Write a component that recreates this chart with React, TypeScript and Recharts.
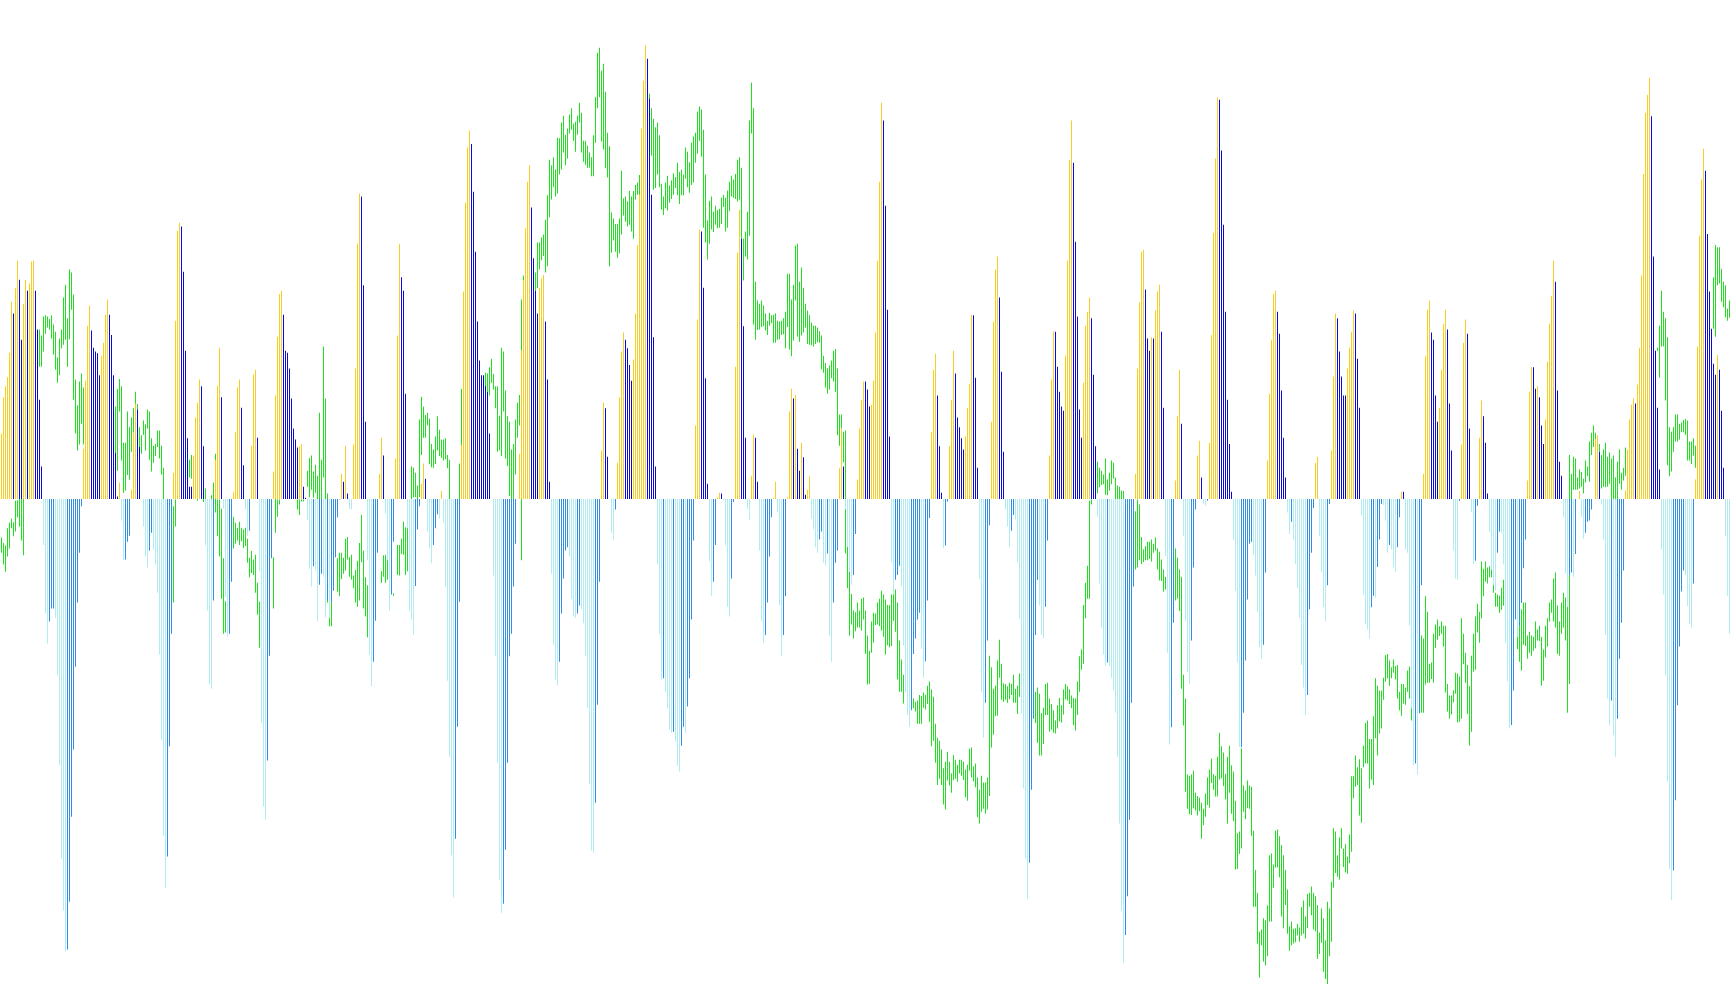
import React from "react";
import { ComposedChart, Bar, XAxis, YAxis, Cell } from "recharts";

const COLS = 108;
const ZERO = 765; // the gauge reading at which the oscillator is zero

const hist1 = [107,166,184,199,239,322,303,344,389,358,260,319,358,340,352,388,389,340,277,162,53,-75,-187,-236,-200,-179,-179,-194,-287,-434,-587,-672,-739,-736,-658,-519,-409,-274,-169,-88,-12,82,193,283,316,275,247,241,238,202,234,255,301,326,301,268,202,76,4,27,-35,-100,-99,-70,-60,15,108,156,146,85,0,-45,-94,-112,-84,-55,-83,-107,-153,-254,-393,-550,-636,-584,-404,-220,43,291,438,451,445,371,242,99,20,20,71,133,157,195,184,86,-76,-182,-303,-310,-166,64];
const hist2 = [185,247,166,-15,-160,-225,-220,-135,11,110,182,195,149,55,-17,-60,-52,87,203,211,100,-118,-365,-502,-524,-427,-256,-97,45,169,265,335,340,301,242,239,213,164,115,97,84,86,90,20,2,-34,-114,-143,-110,-116,-200,-140,-122,-127,-193,-165,-195,-168,-150,-95,-30,-1,41,28,87,9,-16,-17,89,213,417,499,494,349,126,-100,-254,-306,-266,-199,-88,41,100,71,-24,-100,-182,-156,-70,66,267,417,362,340,172,-48,-182,-197,-221,-142,-50,-12,25,58,33,-53,-81,-105];
const hist3 = [-75,-48,-25,-32,13,-38,-143,-297,-421,-582,-651,-555,-372,-168,88,339,484,574,602,580,502,404,290,226,202,202,185,175,107,0,-125,-257,-431,-622,-676,-661,-573,-431,-257,-220,-143,-73,0,74,243,357,442,518,545,476,393,340,303,345,360,366,290,195,28,-122,-238,-295,-305,-266,-187,-130,-84,-79,-94,-163,-192,-194,-187,-174,-180,-203,-256,-341,-465,-574,-578,-496,-336,-135,79,157,148,69,0,-55,-66,-17,59,166,241,272,260,246,219,193,228,303,415,497,605,683,741,719];
const hist4 = [654,497,264,53,-106,-220,-295,-293,-315,-342,-377,-382,-380,-396,-436,-445,-403,-372,-382,-339,-293,-197,-68,120,293,440,437,345,197,25,-102,-158,-135,-75,3,10,9,-2,-76,-176,-192,-130,-5,216,402,473,425,282,100,-16,-34,38,105,100,28,-84,-200,-235,-222,-169,-94,-30,2,28,-22,-173,-257,-222,-159,3,143,180,164,170,82,46,92,68,7,15,37,-32,-50,-79,-88,-66,-53,-104,-109,-89,-223,-266,-169,-104,-84,50,115,53,-17,-78,-119,-140,-124,-57,32,115,162,192];
const hist5 = [192,179,151,154,193,272,389,518,647,618,479,309,102,-103,-155,-132,-124,-109,-142,-239,-316,-353,-372,-345,-253,-228,-197,-186,-245,-292,-265,-166,-31,110,211,237,169,86,10,-80,-76,-4,86,162,242,205,133,117,99,81,102,149,188,301,300,198,51,-130,-315,-390,-333,-231,-43,126,290,375,396,329,208,77,-17,-45,-79,-52,-26,-34,-103,-195,-350,-473,-587,-653,-594,-475,-359,-222,-132,-174,-222,-228,-176,-68,71,195,274,273,216,175,151,144,234,389,554,618,549,420,298,146];
const hist6 = [100,190,283,306,329,295,203,86,-29,-138,-210,-254,-272,-267,-273,-292,-312,-349,-421,-530,-672,-757,-712,-649,-524,-333,-143,41,213,321,404,407,342,262,242,264,262,308,339,350,273,149,-93,-251,-401,-373,-202,30,136,211,123,-60,-200,-282,-302,-231,-112,-17,71,95,35,-8,-11,-3,92,268,435,556,656,652,569,448,306,162,90,12,-67,-150,-267,-405,-405,-349,-264,-164,-73,-70,-92,-125,-184,-243,-261,-238,-120,63,172,260,335,340,306,270,177,100,35,-22,-57,-37,-66,-106];
const hist7 = [-145,-194,-271,-308,-353,-320,-180,-88,-15,59,69,-61,-119,-176,-200,-141,-8,79,200,303,295,241,200,169,169,213,247,273,308,303,229,149,-26,-156,-204,-213,-228,-177,-158,-161,-111,-66,-8,-10,-35,-88,-75,-83,-112,-119,-79,-30,12,12,-83,-88,-207,-342,-435,-432,-450,-350,-141,41,233,309,324,272,260,169,126,149,211,286,309,277,156,79,-84,-130,-132,-3,89,255,293,270,115,-21,-106,-101,-11,100,161,135,92,9,-53,-115,-140,-150,-88,-53,-56,-107,-235,-298,-375,-369];
const hist8 = [-313,-197,-225,-208,-170,-113,-66,30,175,216,215,180,184,166,120,90,130,224,286,332,389,355,177,61,38,-30,-122,-176,-125,-120,-127,-90,0,13,-29,-65,-55,-37,-35,-17,0,98,104,77,-9,-66,-222,-326,-370,-329,-386,-421,-359,-261,-202,-117,14,81,130,154,164,156,187,247,365,531,631,660,688,625,396,242,149,48,-83,-156,-287,-462,-604,-655,-607,-492,-337,-241,-151,-117,-124,-175,-204,-210,-138,32,249,430,522,572,536,433,339,278,221,203,235,211,144,51,-61,-158,-220];

// green ranges as gauge readings: top, bottom per column; 0,0 where it is hidden behind a bar
const green1 = [828,853,837,872,841,884,813,859,804,846,797,813,803,826,768,818,767,795,765,810,765,833,765,857,0,0,0,0,0,0,0,0,0,0,0,0,0,0,488,549,498,549,467,524,465,495,467,485,471,488,465,503,480,529,492,554,534,575,503,563,488,519,436,513,415,505,470,549,390,504,395,456,431,603,570,658,612,686,573,676,560,642,583,676,0,0,0,0,0,0,0,0,0,0,0,0,0,0,0,0,0,0,0,0,0,0,0,0,0,0,0,0,0,0,614,689,585,719,569,622,581,702,673,755,673,751,622,726,648,733,632,688,617,657,590,610,610,619,648,680,661,691,637,660,643,686,619,650,622,701,666,720,678,706,675,695,653,680,653,699,678,725,714,765,0,0,0,0,0,0,0,0,777,934,766,810,0,0,0,0,0,0,0,0,0,0,0,0,701,730,693,732,0,0,0,0,765,768,0,0,0,0,765,770,748,765,0,0,0,0,759,765,738,765,691,787];
const green2 = [766,826,766,859,781,928,862,985,932,983,0,0,0,0,0,0,794,846,804,838,812,833,802,840,812,834,815,845,812,842,830,869,861,893,850,886,864,889,856,918,902,954,933,1008,0,0,0,0,0,0,0,0,0,0,0,0,860,944,717,820,766,794,766,774,0,0,0,0,0,0,0,0,0,0,0,0,0,0,0,0,766,782,766,791,766,769,766,769,0,0,719,745,698,762,694,750,720,763,709,755,727,765,624,765,701,765,516,730,601,765,756,934,958,973,928,973,0,0,0,0,862,916,853,924,853,896,861,887,830,882,827,864,860,892,856,897,890,911,881,934,866,941,837,931,791,868,849,944,893,957,906,991,825,946,867,957,0,0,0,0,0,0,0,0,883,902,857,892,857,902,862,897,867,897,867,884,919,923,0,0,840,889,840,890,830,855,802,856,811,889,767,883,792,911,712,825,714,762,722,762,743,765,635,762,598,693,614,665,628,665,624,645,634,708,675,713,661,694,648,691];
const green3 = [684,714,663,708,630,686,652,695,668,698,668,702,666,700,693,715,701,765,0,0,0,0,0,0,0,0,707,765,585,677,0,0,0,0,0,0,0,0,0,0,0,0,0,0,0,0,0,0,0,0,0,0,559,580,560,590,550,596,536,575,561,586,581,617,581,688,629,686,518,695,524,622,588,699,630,711,639,760,684,765,675,765,635,725,608,665,595,645,439,865,400,408,0,0,0,0,0,0,0,0,0,0,395,425,346,421,346,390,338,375,333,368,309,395,269,385,211,305,220,276,207,256,227,271,175,266,176,235,150,227,139,199,170,220,160,209,137,168,127,162,152,180,149,198,139,170,118,150,134,199,180,214,180,219,188,224,199,224,207,238,171,238,109,183,36,127,28,109,65,181,54,194,100,225,167,240,189,385,297,363,307,343,316,361,316,371,307,364,229,333,274,302,271,312,279,320,262,317,271,328,262,340,252,276,248,268,236,268,0,0,0,0,0,0,0,0];
const green4 = [103,111,127,204,144,260,158,257,150,235,171,256,250,292,271,301,248,290,237,294,253,281,245,275,233,268,239,257,216,269,231,283,227,269,235,269,191,242,198,256,215,265,183,252,173,248,167,216,132,201,124,180,129,206,162,322,235,346,310,374,278,348,271,325,296,329,286,317,293,323,291,322,273,316,268,288,273,328,261,322,247,295,237,271,243,273,234,275,211,279,207,276,224,340,340,408,328,369,296,374,147,335,85,168,127,480,410,505,441,489,446,488,441,484,449,483,462,490,474,497,461,482,465,478,464,510,462,510,474,505,475,504,474,497,470,496,459,519,397,484,397,521,439,532,415,506,351,441,348,500,410,508,387,498,420,493,446,485,457,512,465,513,477,514,482,516,482,512,485,509,491,510,498,553,531,559,543,583,552,593,547,586,539,568,523,573,520,590,552,661,627,678,627,650,655,705,653,854,843,911,884,988,920,970,947,993,950,981,934,975,947,975,928,980,926,962];
const green5 = [947,1018,988,1068,1013,1067,965,1016,951,1000,952,971,934,970,928,973,915,980,921,990,929,1019,938,1004,938,1007,921,1005,921,964,913,982,934,1060,996,1080,1027,1080,1052,1099,0,0,0,0,0,0,0,0,1091,1107,1096,1112,1094,1132,1085,1132,1087,1132,1081,1106,1085,1109,1070,1100,1063,1129,1076,1169,1088,1160,1132,1196,1155,1232,1160,1222,1174,1232,1205,1264,1194,1272,1178,1225,1194,1233,1213,1245,1183,1224,1191,1222,1199,1227,1191,1213,1191,1217,1194,1224,1207,1252,1199,1258,1173,1209,1171,1220,1202,1226,1197,1236,1220,1285,1240,1295,1217,1276,1228,1271,1228,1279,1220,1272,1021,1250,1040,1171,1075,1150,1070,1120,1029,1119,995,1057,1034,1093,1066,1096,1067,1093,1071,1098,1065,1092,1067,1085,1052,1098,1075,1098,1070,1116,1050,1088,0,0,0,0,0,0,0,0,0,0,0,0,0,0,1080,1131,1073,1163,1083,1184,1115,1184,1106,1165,1067,1118,1065,1118,1091,1145,1100,1142,1110,1147,1127,1148,1102,1140,1090,1128,1102,1130,1076,1117,1067,1092,1071,1094,1076,1100,1086,1107,1090,1134,1091,1143,1063,1118,1022,1080];
const green6 = [1011,1044,938,1034,902,960,874,928,768,928,766,774,0,0,0,0,704,756,714,746,719,742,725,741,699,758,733,759,722,751,702,741,706,732,730,765,743,765,745,765,751,765,752,765,0,0,0,0,0,0,0,0,0,0,785,880,766,877,774,865,827,871,847,868,842,865,835,865,835,863,831,867,838,853,828,849,846,880,851,898,864,899,880,916,892,913,0,0,0,0,0,0,0,0,846,931,861,928,880,948,892,1075,1052,1135,1091,1243,1215,1271,1217,1280,1215,1281,1209,1270,1245,1274,1250,1282,1253,1275,1261,1320,1271,1298,1246,1284,1220,1265,1207,1269,1189,1229,1214,1240,1217,1251,1186,1251,1147,1223,1169,1221,1179,1234,1214,1256,1186,1295,1168,1245,1200,1279,1210,1291,1258,1370,1311,1369,1308,1345,1172,1336,1233,1276,1241,1288,1225,1270,1233,1271,1235,1315,1307,1431,1371,1431,1408,1491,1472,1547,1468,1494,1450,1521,1453,1527,1429,1512,1347,1455,1344,1455,1362,1400,1307,1367,1305,1367,1316,1383,1330,1447,1347,1466,1371,1428,1403,1475,1463,1503,1455,1494,1467,1491,1466,1489];
const green7 = [1459,1478,1465,1488,1432,1478,1421,1475,1447,1483,1410,1466,1408,1431,1398,1445,1408,1468,1414,1471,1428,1516,1473,1508,1434,1490,1450,1537,1486,1549,1423,1557,1434,1512,1390,1488,1303,1400,1308,1376,1347,1382,1318,1387,1303,1336,1336,1366,1329,1375,1349,1377,1313,1360,1218,1341,1218,1254,1184,1235,1203,1232,1190,1282,1205,1294,1168,1203,1131,1197,1127,1197,1157,1238,1157,1223,1120,1232,1058,1156,1070,1184,1078,1148,1078,1140,1057,1093,1020,1063,1018,1058,1029,1070,1040,1058,1027,1049,1038,1060,1036,1091,1080,1110,1067,1119,1067,1099,1073,1101,1045,1080,1039,1091,1107,1127,0,0,0,0,0,0,0,0,988,1114,993,1114,924,1068,949,1065,1034,1065,1032,1059,985,1065,970,1008,962,995,973,989,965,985,972,1006,972,1081,1067,1112,1086,1124,1086,1117,1078,1097,1049,1083,1050,1130,1055,1129,960,1124,985,1035,1016,1065,1036,1116,1071,1168,1021,1145,985,1047,957,1044,936,983,949,1000,867,960,879,924,867,900,877,903,875,893,880,893,905,918,918,941,921,941,923,951,910,946,897,939,0,0,0,0,0,0,0,0];
const green8 = [0,0,0,0,990,1010,973,1031,945,1045,934,1003,934,1005,988,1026,982,1016,988,1021,990,1013,965,1009,978,996,972,997,990,1070,1011,1062,972,1024,960,1006,934,965,929,951,895,965,885,975,939,1018,965,1021,934,985,918,975,926,996,941,1114,693,1067,724,765,696,750,699,750,730,750,717,748,721,745,732,756,702,738,712,728,671,737,657,693,645,680,657,700,0,0,675,688,693,748,684,745,673,746,696,745,689,740,699,765,694,765,730,765,704,765,684,740,722,750,714,735,681,727,0,0,0,0,0,0,0,0,0,0,0,0,0,0,0,0,0,0,0,0,0,0,0,0,0,0,0,0,0,0,518,523,482,567,425,516,459,516,470,604,501,710,648,728,655,720,648,688,627,671,627,671,642,668,640,656,636,656,634,660,637,702,671,702,671,708,666,694,678,714,704,733,0,0,0,0,0,0,0,0,0,0,0,0,0,0,403,487,350,500,354,416,354,413,389,443,410,452,416,468,454,474,441,469,445,462];

const histChunks = [hist1, hist2, hist3, hist4, hist5, hist6, hist7, hist8];
const greenChunks = [green1, green2, green3, green4, green5, green6, green7, green8];

const YELLOW = "#F7CE22";
const BLUE = "#0A0ADC";
const PALE = "#B2EBF0";
const SKY = "#2E8FE8";
const GREEN = "#1EE01E";

type Row = { i: number; h: number; g: [number, number] | null };
const rows: Row[] = [];
histChunks.forEach((chunk, c) => {
  const total = c === 7 ? COLS + 1 : COLS;
  for (let k = 0; k < total; k++) {
    const top = greenChunks[c][k * 2] ?? 0;
    const bot = greenChunks[c][k * 2 + 1] ?? 0;
    rows.push({
      i: c * COLS + k,
      h: chunk[k] ?? 0,
      g: top === 0 && bot === 0 ? null : [ZERO - bot, ZERO - top],
    });
  }
});

const tone = (h: number, prev: number) => {
  if (h >= 0) return h > prev ? YELLOW : BLUE;
  return h < prev ? PALE : SKY;
};

export default function App() {
  return (
    <div style={{ position: "absolute", left: 0, top: 0, width: 1730, height: 1005, overflow: "hidden", background: "#fff" }}>
      <ComposedChart
        width={1730}
        height={1005}
        data={rows}
        margin={{ top: 0, right: 0, bottom: 0, left: 0 }}
        barCategoryGap={0}
      >
        <XAxis xAxisId="a" dataKey="i" hide />
        <XAxis xAxisId="b" dataKey="i" hide />
        <YAxis hide domain={[-826.5, 815]} allowDataOverflow />
        <Bar xAxisId="a" dataKey="g" barSize={1} fill={GREEN} isAnimationActive={false} />
        <Bar xAxisId="b" dataKey="h" barSize={1} isAnimationActive={false}>
          {rows.map((r, idx) => (
            <Cell key={idx} fill={tone(r.h, idx > 0 ? rows[idx - 1].h : 0)} />
          ))}
        </Bar>
      </ComposedChart>
    </div>
  );
}
